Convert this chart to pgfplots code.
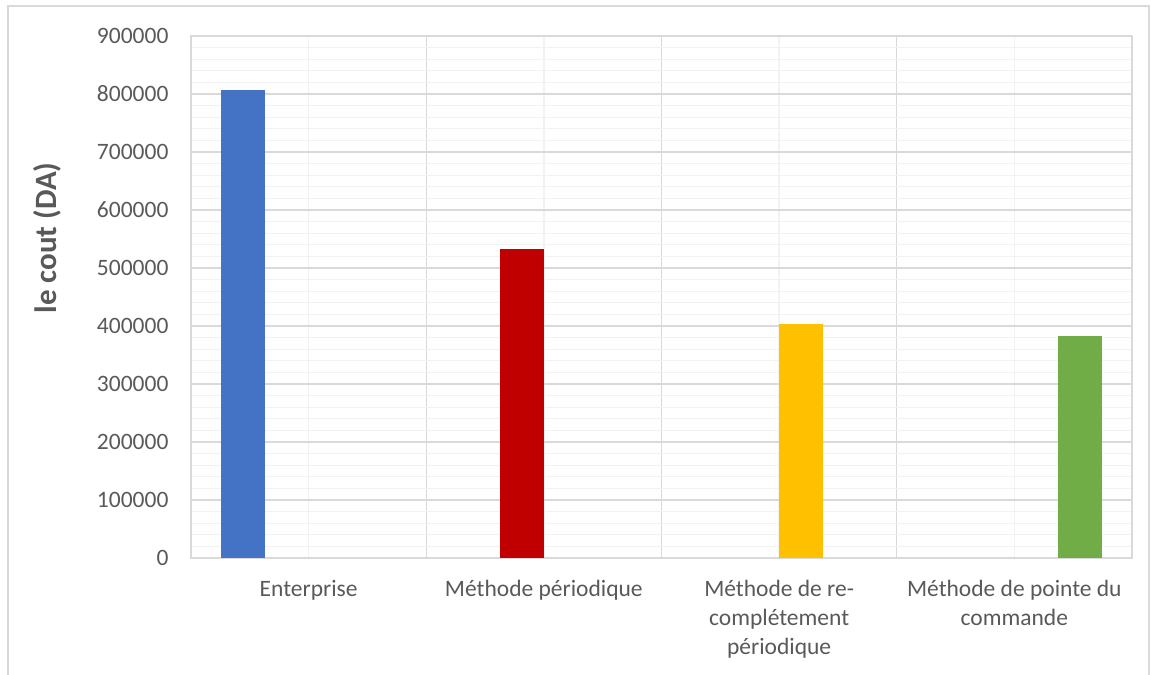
\documentclass[border=0pt]{standalone}
\usepackage{pgfplots}
\pgfplotsset{compat=1.18}
\usepackage{fontspec}
\setmainfont{Carlito}
\definecolor{axgray}{HTML}{D9D9D9}
\definecolor{mingray}{HTML}{F2F2F2}
\definecolor{txt}{HTML}{595959}
\definecolor{cblue}{HTML}{4472C4}
\definecolor{cred}{HTML}{C00000}
\definecolor{cyellow}{HTML}{FFC000}
\definecolor{cgreen}{HTML}{70AD47}
\begin{document}
\begin{tikzpicture}[x=1pt,y=1pt]
\useasboundingbox (-191,-117) rectangle (961,558);
\draw[color=axgray, line width=1.3pt] (-183,-117) -- (-183,552) -- (958,552) -- (958,-117);
\begin{axis}[at={(0,0)}, anchor=south west, scale only axis,
  width=941pt, height=522pt,
  ybar=0pt, bar width=44pt,
  xmin=-0.5, xmax=3.5, ymin=0, ymax=900000,
  xtick={0,1,2,3},
  xticklabels={Enterprise, Méthode périodique, {Méthode de re-\\complétement\\périodique}, {Méthode de pointe du\\commande}},
  minor xtick={0.5,1.5,2.5},
  ytick={0,100000,...,900000},
  minor y tick num=4,
  xmajorgrids, xminorgrids, ymajorgrids, yminorgrids,
  major x grid style={mingray, line width=1.3pt},
  minor x grid style={axgray, line width=1.3pt},
  major y grid style={axgray, line width=1.3pt},
  minor y grid style={mingray, line width=1.3pt},
  axis line style={axgray, line width=1.3pt},
  major tick length=0pt, minor tick length=0pt,
  scaled y ticks=false,
  yticklabel={\pgfmathprintnumber[fixed, precision=0, 1000 sep={}]{\tick}},
  /pgf/number format/assume math mode=true,
  ticklabel style={font=\fontsize{23.5}{29}\selectfont, text=txt},
  xticklabel style={align=center, anchor=north, yshift=-19pt},
  yticklabel style={anchor=east, xshift=-19pt},
  ylabel={le cout (DA)},
  ylabel style={font=\bfseries\fontsize{31}{36}\selectfont, text=txt, at={(axis description cs:-0.153,0.613)}, anchor=center, rotate=0},
  clip=false,
]
\addplot[fill=cblue, draw=none] coordinates {(0,807000)};
\addplot[fill=cred, draw=none] coordinates {(1,533000)};
\addplot[fill=cyellow, draw=none] coordinates {(2,404000)};
\addplot[fill=cgreen, draw=none] coordinates {(3,383000)};
\end{axis}
\end{tikzpicture}
\end{document}
